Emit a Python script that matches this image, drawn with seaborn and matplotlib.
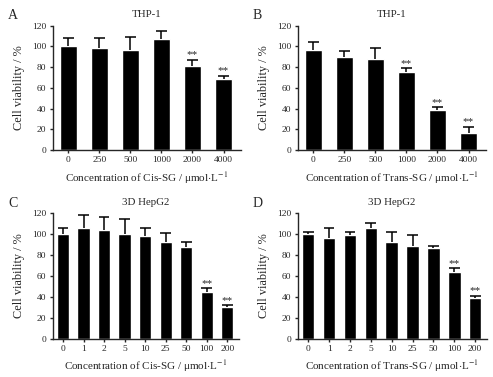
import numpy as np
import pandas as pd
import matplotlib
matplotlib.use("Agg")
import matplotlib.pyplot as plt
import seaborn as sns

# panel data
thp_doses = ["0", "250", "500", "1000", "2000", "4000"]
hep_doses = ["0", "1", "2", "5", "10", "25", "50", "100", "200"]

cis_thp_mean = [100.5, 98.7, 96.2, 106.8, 81.0, 68.5]
cis_thp_err = [7.5, 9.3, 12.8, 7.7, 6.0, 3.0]
cis_thp_sig = [False, False, False, False, True, True]

trans_thp_mean = [96.8, 89.8, 87.9, 75.3, 39.0, 16.0]
trans_thp_err = [7.5, 5.3, 10.2, 3.8, 2.3, 6.4]
trans_thp_sig = [False, False, False, True, True, True]

cis_hep_mean = [100.5, 106.3, 103.7, 100.0, 98.0, 92.9, 88.1, 45.0, 30.3]
cis_hep_err = [5.1, 12.1, 12.5, 14.3, 8.3, 8.3, 4.1, 3.5, 1.9]
cis_hep_sig = [False] * 7 + [True, True]

trans_hep_mean = [100.7, 96.3, 99.2, 105.8, 92.5, 88.7, 87.2, 63.5, 39.2]
trans_hep_err = [1.3, 9.5, 2.8, 4.7, 9.5, 10.5, 1.8, 3.8, 1.8]
trans_hep_sig = [False] * 7 + [True, True]

panels = [
    ("A", "THP-1", thp_doses, cis_thp_mean, cis_thp_err, cis_thp_sig, "Cis-SG"),
    ("B", "THP-1", thp_doses, trans_thp_mean, trans_thp_err, trans_thp_sig, "Trans-SG"),
    ("C", "3D HepG2", hep_doses, cis_hep_mean, cis_hep_err, cis_hep_sig, "Cis-SG"),
    ("D", "3D HepG2", hep_doses, trans_hep_mean, trans_hep_err, trans_hep_sig, "Trans-SG"),
]

# axes rectangles in figure fractions
rects = [
    [0.107, 0.602, 0.381, 0.330],
    [0.604, 0.602, 0.381, 0.330],
    [0.107, 0.102, 0.377, 0.332],
    [0.604, 0.102, 0.383, 0.332],
]

sns.set_style("ticks")
plt.rcParams["font.family"] = ["Liberation Serif", "DejaVu Serif"]
plt.rcParams["mathtext.fontset"] = "stix"

fig = plt.figure(figsize=(4.93, 3.77), dpi=100)

for (letter, title, doses, mean, err, sig, drug), rect in zip(panels, rects):
    ax = fig.add_axes(rect)
    df = pd.DataFrame({"dose": doses, "viability": mean})
    bar_w = 0.54 if len(doses) == 6 else 0.6
    sns.barplot(data=df, x="dose", y="viability", color="black", width=bar_w,
                saturation=1, errorbar=None, ax=ax)

    # one-sided (upper) error bars, GraphPad style
    x = np.arange(len(doses))
    top = np.array(mean) + np.array(err)
    cap = 0.18 if len(doses) == 6 else 0.26
    ax.vlines(x, mean, top, color="black", lw=1.1)
    ax.hlines(top, x - cap, x + cap, color="black", lw=1.1)
    for xi, t, s in zip(x, top, sig):
        if s:
            ax.text(xi, t + 0.3, "**", ha="center", va="bottom", fontsize=8)

    ax.set_xlim(-0.5, len(doses) - 0.45)
    ax.set_ylim(0, 120)
    ax.set_yticks(range(0, 121, 20))
    sns.despine(ax=ax)
    ax.spines["left"].set_linewidth(1.0)
    ax.spines["bottom"].set_linewidth(1.0)
    ax.tick_params(axis="both", labelsize=6.8, length=2.5, width=1.0, pad=2)
    ax.set_ylabel("Cell viability / %", fontsize=8.8, labelpad=5)
    ax.set_xlabel("Concentration of " + drug + r" / μmol$\cdot$L$^{-1}$", fontsize=8, labelpad=4)
    ax.set_title(title, fontsize=7.8, pad=6)
    ax.text(-0.24, 1.08, letter, transform=ax.transAxes, fontsize=10,
            ha="left", va="center")

fig.savefig("out.png", dpi=100)
